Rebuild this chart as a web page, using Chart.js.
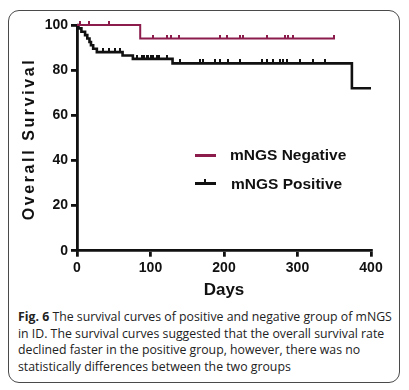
<!DOCTYPE html>
<html>
<head>
<meta charset="utf-8">
<script src="https://cdn.jsdelivr.net/npm/chart.js@4.4.1/dist/chart.umd.min.js"></script>
<style>
  body { margin: 0; background: #fff; }
  #wrap { position: relative; width: 409px; height: 390px; overflow: hidden; background: #fff; }
  #frame { position: absolute; left: 8px; top: 10px; width: 392px; height: 373px; border: 1.6px solid #4a4a4a; border-radius: 11px; box-sizing: border-box; }
  #chart { position: absolute; left: 0; top: 0; }
  .leg { position: absolute; font: bold 15.5px "Liberation Sans", Arial, sans-serif; color: #111; white-space: nowrap; }
  .mark { position: absolute; height: 3px; }
  #caption { position: absolute; left: 18px; top: 309px; width: 385px; font: 12.3px "Open Sans", sans-serif; line-height: 16.6px; color: #222; white-space: nowrap; }
  #caption b { font-weight: 700; }
</style>
</head>
<body>
<div id="wrap">
  <div id="frame"></div>
  <canvas id="chart" width="409" height="303"></canvas>
  <div class="mark" style="left:195px;top:153.5px;width:21px;background:#8b1c4c;"></div>
  <div class="leg" style="left:230px;top:146px;">mNGS Negative</div>
  <div class="mark" style="left:195px;top:182px;width:21px;background:#111;"></div>
  <div class="mark" style="left:204px;top:179px;width:2px;height:4px;background:#111;"></div>
  <div class="leg" style="left:231px;top:175px;">mNGS Positive</div>
  <div id="caption">
    <b>Fig. 6</b> The survival curves of positive and negative group of mNGS<br>
    in ID. The survival curves suggested that the overall survival rate<br>
    declined faster in the positive group, however, there was no<br>
    statistically differences between the two groups
  </div>
</div>
<script>
// survival steps (day of event, survival % after it)
const negDays = [0, 86, 351];
const negSurv = [100, 94, 94];
const negCensor = [4, 17, 43, 103, 123, 128, 139, 195, 204, 222, 226, 258, 283, 287, 294, 349];

const posDays = [0, 2, 6, 11, 14, 17, 19, 22, 27, 62, 76, 130, 374, 400];
const posSurv = [100, 98.5, 97, 95.5, 94, 92.5, 91, 89.5, 88, 86.5, 85, 83, 72, 72];
const posCensor = [36, 43, 52, 58, 81, 88, 91, 95, 97, 100, 104, 109, 112, 122,
  140, 167, 171, 188, 195, 206, 222, 252, 258, 267, 276, 280, 286, 303, 321, 338];

const xTicks = [0, 100, 200, 300, 400];
const yTicks = [0, 20, 40, 60, 80, 100];

const maroon = '#8b1c4c';
const black = '#111111';

// value of a step curve at day t
const levelAt = (days, surv, t) => {
  let v = surv[0];
  days.forEach((d, i) => { if (d <= t) v = surv[i]; });
  return v;
};

// small upward tick used as censor mark
const makeTick = (color, w, h) => {
  const c = document.createElement('canvas');
  c.width = w;
  c.height = h * 2;
  const g = c.getContext('2d');
  g.fillStyle = color;
  g.fillRect(0, 0, w, h);
  return c;
};

const toPoints = (days, surv) => days.map((d, i) => ({ x: d, y: surv[i] }));
const censorPoints = (cens, days, surv) => cens.map(t => ({ x: t, y: levelAt(days, surv, t) }));

const yTitlePlugin = {
  id: 'yTitle',
  afterDraw(chart) {
    const ctx = chart.ctx;
    ctx.save();
    ctx.translate(30, 139);
    ctx.rotate(-Math.PI / 2);
    ctx.font = 'bold 16px "Liberation Sans", Arial, sans-serif';
    ctx.letterSpacing = '2.6px';
    ctx.fillStyle = black;
    ctx.textAlign = 'center';
    ctx.textBaseline = 'middle';
    ctx.fillText('Overall Survival', 0, 0);
    ctx.restore();
  }
};

const data = {
  datasets: [
    {
      label: 'mNGS Negative',
      data: toPoints(negDays, negSurv),
      showLine: true,
      borderColor: maroon,
      borderWidth: 2,
      stepped: 'before',
      pointRadius: 0,
      fill: false,
      clip: false
    },
    {
      label: 'mNGS Positive',
      data: toPoints(posDays, posSurv),
      showLine: true,
      borderColor: black,
      borderWidth: 2.6,
      stepped: 'before',
      pointRadius: 0,
      fill: false,
      clip: false
    },
    {
      label: 'neg censor',
      data: censorPoints(negCensor, negDays, negSurv),
      showLine: false,
      pointStyle: makeTick(maroon, 2, 4),
      pointRadius: 4,
      clip: false
    },
    {
      label: 'pos censor',
      data: censorPoints(posCensor, posDays, posSurv),
      showLine: false,
      pointStyle: makeTick(black, 2, 4),
      pointRadius: 4,
      clip: false
    }
  ]
};

const tickFont = { family: '"Liberation Sans", Arial, sans-serif', size: 14, weight: 'bold' };

new Chart(document.getElementById('chart'), {
  type: 'scatter',
  data,
  options: {
    responsive: false,
    animation: false,
    layout: { padding: { left: 0, right: 38, top: 25, bottom: 0 } },
    plugins: { legend: { display: false }, tooltip: { enabled: false } },
    scales: {
      x: {
        type: 'linear',
        min: 0,
        max: 400,
        afterBuildTicks: s => { s.ticks = xTicks.map(v => ({ value: v })); },
        afterFit: s => { s.height = 52.3; },
        border: { color: black, width: 2.8 },
        grid: { drawOnChartArea: false, color: black, lineWidth: 2.8, tickLength: 6 },
        ticks: { color: black, font: tickFont, padding: 3, maxRotation: 0 },
        title: {
          display: true,
          text: 'Days',
          color: black,
          font: { family: '"Liberation Sans", Arial, sans-serif', size: 17, weight: 'bold' },
          padding: { top: 0, bottom: 2 }
        }
      },
      y: {
        type: 'linear',
        min: 0,
        max: 100,
        afterBuildTicks: s => { s.ticks = yTicks.map(v => ({ value: v })); },
        afterFit: s => { s.width = 77; },
        border: { color: black, width: 2.8 },
        grid: { drawOnChartArea: false, color: black, lineWidth: 2.8, tickLength: 6 },
        ticks: { color: black, font: tickFont, padding: 3 }
      }
    }
  },
  plugins: [yTitlePlugin]
});
</script>
</body>
</html>
